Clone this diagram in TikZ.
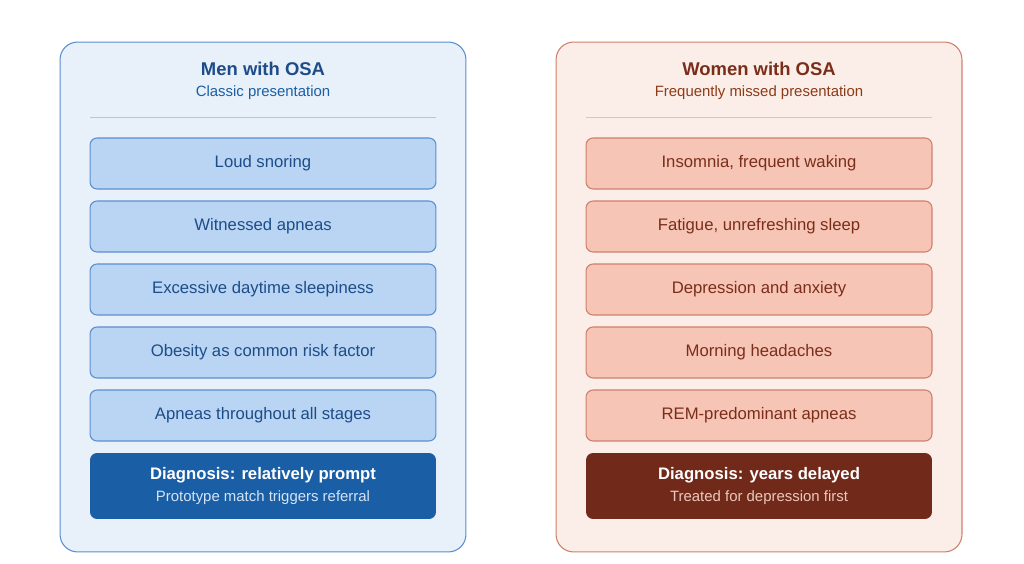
\documentclass[tikz,border=0pt]{standalone}
\usepackage{fontspec}
\setmainfont{Liberation Sans}
\definecolor{menPanel}{HTML}{E8F0FA}
\definecolor{menLine}{HTML}{5B8FD0}
\definecolor{menBox}{HTML}{B9D5F3}
\definecolor{menText}{HTML}{1D4C88}
\definecolor{menDark}{HTML}{1A5FA6}
\definecolor{menSub}{HTML}{D3E3F6}
\definecolor{womPanel}{HTML}{FBEEE9}
\definecolor{womLine}{HTML}{CF7F6C}
\definecolor{womBox}{HTML}{F6C5B5}
\definecolor{womText}{HTML}{7A2E1A}
\definecolor{womDark}{HTML}{712A1A}
\definecolor{womSub}{HTML}{EBC8BD}
\tikzset{
	panel/.style={rectangle, draw, rounded corners=10pt, minimum width=8.12cm, minimum height=10.2cm, line width=0.6pt},
	symptom/.style={rectangle, draw, rounded corners=4pt, text centered, minimum width=6.92cm, minimum height=1.02cm, line width=0.6pt, font=\fontsize{9.5}{11}\selectfont},
	verdict/.style={rectangle, rounded corners=4pt, text centered, align=center, minimum width=6.92cm, minimum height=1.32cm, font=\fontsize{9.5}{13}\selectfont}
}
\begin{document}
\begin{tikzpicture}[x=0.02cm, y=-0.02cm]
		\useasboundingbox (0,0) rectangle (1024,564);
		
		%Men panel
		\node (menPanel) at (263,297) [panel, draw=menLine, fill=menPanel]{};
		\node (menTitle) at (263,69) [text=menText, font=\fontsize{10.5}{12}\selectfont\bfseries]{Men with OSA};
		\node (menSubtitle) at (263,93) [text=menDark, font=\fontsize{8.5}{10}\selectfont]{Classic presentation};
		\draw[menLine!50, line width=0.5pt] (90,117) -- (436,117);
		
		\node (menOne) at (263,163.5) [symptom, draw=menLine, fill=menBox, text=menText]{Loud snoring};
		\node (menTwo) at (263,226.5) [symptom, draw=menLine, fill=menBox, text=menText]{Witnessed apneas};
		\node (menThree) at (263,289.5) [symptom, draw=menLine, fill=menBox, text=menText]{Excessive daytime sleepiness};
		\node (menFour) at (263,352.5) [symptom, draw=menLine, fill=menBox, text=menText]{Obesity as common risk factor};
		\node (menFive) at (263,415.5) [symptom, draw=menLine, fill=menBox, text=menText]{Apneas throughout all stages};
		\node (menDiag) at (263,486) [verdict, fill=menDark, text=white]{\textbf{Diagnosis: relatively prompt}\\{\color{menSub}\fontsize{8.5}{10}\selectfont Prototype match triggers referral}};
		
		%Women panel
		\node (womPanel) at (759,297) [panel, draw=womLine, fill=womPanel]{};
		\node (womTitle) at (759,69) [text=womText, font=\fontsize{10.5}{12}\selectfont\bfseries]{Women with OSA};
		\node (womSubtitle) at (759,93) [text=womText!85!orange, font=\fontsize{8.5}{10}\selectfont]{Frequently missed presentation};
		\draw[womLine!50, line width=0.5pt] (586,117) -- (932,117);
		
		\node (womOne) at (759,163.5) [symptom, draw=womLine, fill=womBox, text=womText]{Insomnia, frequent waking};
		\node (womTwo) at (759,226.5) [symptom, draw=womLine, fill=womBox, text=womText]{Fatigue, unrefreshing sleep};
		\node (womThree) at (759,289.5) [symptom, draw=womLine, fill=womBox, text=womText]{Depression and anxiety};
		\node (womFour) at (759,352.5) [symptom, draw=womLine, fill=womBox, text=womText]{Morning headaches};
		\node (womFive) at (759,415.5) [symptom, draw=womLine, fill=womBox, text=womText]{REM-predominant apneas};
		\node (womDiag) at (759,486) [verdict, fill=womDark, text=white]{\textbf{Diagnosis: years delayed}\\{\color{womSub}\fontsize{8.5}{10}\selectfont Treated for depression first}};
		
\end{tikzpicture}
\end{document}
